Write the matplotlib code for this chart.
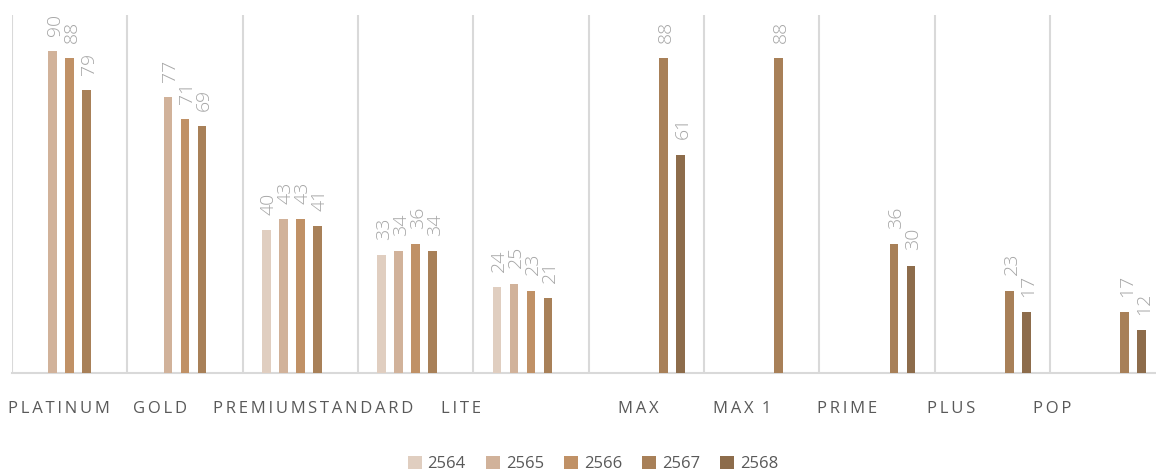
import numpy as np
import matplotlib
matplotlib.use("Agg")
import matplotlib.pyplot as plt
import matplotlib.transforms as mtransforms
from matplotlib.patches import Patch

categories = ["PLATINUM", "GOLD", "PREMIUM", "STANDARD", "LITE", "MAX", "MAX 1", "PRIME", "PLUS", "POP"]
series_names = ["2564", "2565", "2566", "2567", "2568"]
nan = np.nan
v2564 = [nan, nan, 40, 33, 24, nan, nan, nan, nan, nan]
v2565 = [90, 77, 43, 34, 25, nan, nan, nan, nan, nan]
v2566 = [88, 71, 43, 36, 23, nan, nan, nan, nan, nan]
v2567 = [79, 69, 41, 34, 21, 88, 88, 36, 23, 17]
v2568 = [nan, nan, nan, nan, nan, 61, nan, 30, 17, 12]
series_values = [v2564, v2565, v2566, v2567, v2568]
colors = ["#E0CEC0", "#D1B29A", "#C09166", "#A88058", "#8D6C4B"]
# horizontal shift (px) of each category label as drawn in the original
label_shift_px = [-11, -25, -41, -55, -70, -8, -20, -30, -41, -56]

plt.rcParams['font.family'] = ['Open Sans', 'DejaVu Sans']

W, H = 1156, 471
fig = plt.figure(figsize=(W / 100, H / 100), dpi=100)
left_px, right_px, top_px, bottom_px = 12, 1165.5, 15, 373
ax = fig.add_axes([left_px / W, (H - bottom_px) / H, (right_px - left_px) / W, (bottom_px - top_px) / H])

n = len(categories)
x = np.arange(n)
slot = 0.147
width = 0.075
for j, (name, vals, c) in enumerate(zip(series_names, series_values, colors)):
    vals = np.array(vals, dtype=float)
    xs = x + (j - 2) * slot
    ax.bar(xs, vals, width=width, color=c, zorder=3, label=name)
    for xi, v in zip(xs, vals):
        if not np.isnan(v):
            ax.annotate(f"{int(v)}", (xi, v), xytext=(1.5, 11), textcoords="offset points",
                        rotation=90, ha="center", va="bottom", color="#A6A6A6",
                        fontsize=14, fontweight="light")

ax.set_xlim(-0.5, n - 0.5)
ax.set_ylim(0, 100)
for b in np.arange(-0.5, n, 1.0):
    ax.axvline(b, color="#D9D9D9", lw=1.5, zorder=1)
for s in ["top", "right", "left"]:
    ax.spines[s].set_visible(False)
ax.spines["bottom"].set_color("#D9D9D9")
ax.spines["bottom"].set_linewidth(1.5)
ax.set_yticks([])
ax.set_xticks(x)
sp = "\u2009"
spaced = [sp.join(list(c)).replace(sp + " " + sp, sp + sp + sp) for c in categories]
labels = ax.set_xticklabels(spaced, fontsize=12.0, color="#595959")
ax.tick_params(axis="x", length=0, pad=20.5)
for lab, dx in zip(labels, label_shift_px):
    lab.set_transform(lab.get_transform() + mtransforms.Affine2D().translate(dx, 0))

handles = [Patch(facecolor=c, edgecolor="none") for c in colors]
fig.legend(handles, series_names, loc="lower center", bbox_to_anchor=(0.513, -0.035), ncol=5,
           frameon=False, fontsize=12, labelcolor="#595959", handlelength=0.85, handleheight=0.85,
           handletextpad=0.35, columnspacing=1.2)

fig.savefig("out.png", dpi=100)
